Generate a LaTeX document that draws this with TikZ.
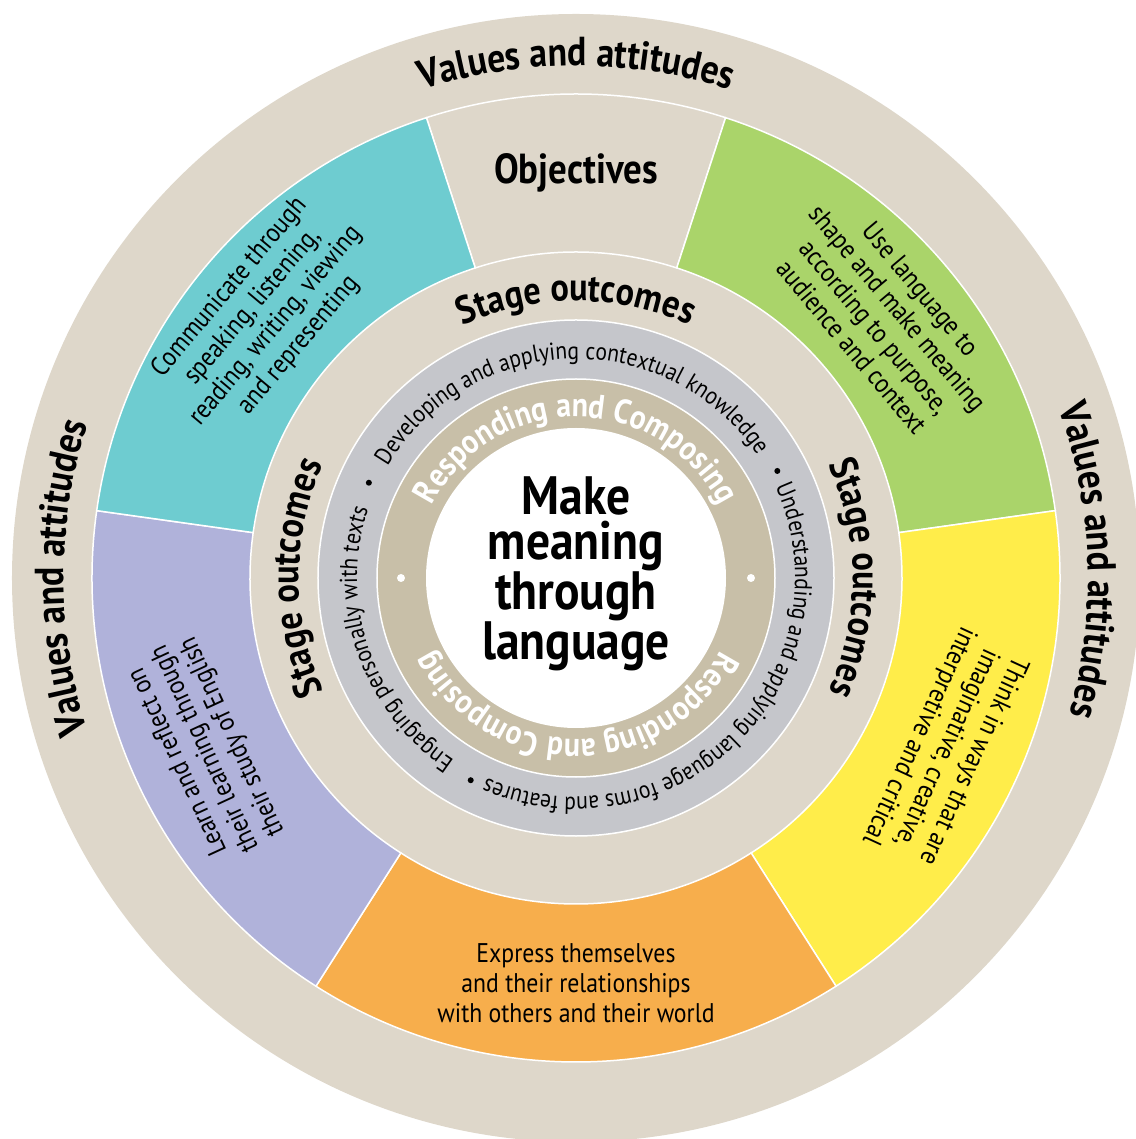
\documentclass[tikz,border=0pt]{standalone}
\usepackage{fontspec}
\setmainfont{PT Sans}[FakeStretch=0.88]
\usetikzlibrary{decorations.text}

\definecolor{ringbeige}{HTML}{DED7CA}
\definecolor{ringgray}{HTML}{C5C6CB}
\definecolor{ringtan}{HTML}{C8BFA8}
\definecolor{segcyan}{HTML}{6ECCD0}
\definecolor{seggreen}{HTML}{AAD46A}
\definecolor{segyellow}{HTML}{FFED4A}
\definecolor{segorange}{HTML}{F7AE4C}
\definecolor{segpurple}{HTML}{B0B2DA}

\newcommand{\bigfont}{\bfseries\fontsize{39}{39}\selectfont}
\newcommand{\valuefont}{\bfseries\fontsize{40.5}{40.5}\selectfont}
\newcommand{\objfont}{\bfseries\fontsize{42}{42}\selectfont}
\newcommand{\segfont}{\fontsize{27}{30}\selectfont}
\newcommand{\ringfont}{\fontsize{24.5}{24.5}\selectfont}
\newcommand{\respfont}{\bfseries\fontsize{34}{34}\selectfont}
\newcommand{\centrefont}{\bfseries\fontsize{54}{44.5}\selectfont}

\tikzset{
  curved/.style={decorate, decoration={text along path, text align=center, text={#1}}},
  curvedwhite/.style={decorate, decoration={text along path, text align=center, text color=white, text={#1}}},
  segline/.style={draw=white, line width=1.5pt},
  seglabel/.style={align=center, font=\segfont}
}

\begin{document}
\begin{tikzpicture}[x=1pt,y=1pt]
    \useasboundingbox (-576,-561) rectangle (559,578);
    \fill[ringbeige] (0,0) circle[radius=564];
    \foreach \from/\to/\col in {72/108/ringbeige, 8/72/seggreen, -57.5/8/segyellow,
        -122.5/-57.5/segorange, 172/237.5/segpurple, 108/172/segcyan}
      \draw[segline, fill=\col] (\from:326) arc[start angle=\from, end angle=\to, radius=326]
        -- (\to:484) arc[start angle=\to, end angle=\from, radius=484] -- cycle;
    \draw[segline, fill=ringgray] (0,0) circle[radius=258];
    \draw[segline, fill=ringtan] (0,0) circle[radius=199];
    \fill[white] (0,0) circle[radius=150];

    \path[curved={|\valuefont|Values and attitudes}] (150:512) arc[start angle=150, end angle=30, radius=512];
    \path[curved={|\valuefont|Values and attitudes}] (240:512) arc[start angle=240, end angle=120, radius=512];
    \path[curved={|\valuefont|Values and attitudes}] (62:512) arc[start angle=62, end angle=-58, radius=512];
    \path[curved={|\bigfont|Stage outcomes}] (150:277) arc[start angle=150, end angle=30, radius=277];
    \path[curved={|\bigfont|Stage outcomes}] (240:277) arc[start angle=240, end angle=120, radius=277];
    \path[curved={|\bigfont|Stage outcomes}] (60:277) arc[start angle=60, end angle=-60, radius=277];

    \path[curved={|\ringfont|Developing and applying contextual knowledge}] (161.7:219) arc[start angle=161.7, end angle=21.7, radius=219];
    \path[curved={|\ringfont|Understanding and applying language forms and features}] (42:219) arc[start angle=42, end angle=-131.5, radius=219];
    \path[curved={|\ringfont|Engaging personally with texts}] (251.9:219) arc[start angle=251.9, end angle=145.9, radius=219];
    \foreach \a in {155.3,28,242.5}
      \fill (\a:228) circle[radius=3];

    \path[curvedwhite={|\respfont|Responding and Composing}] (170:161) arc[start angle=170, end angle=10, radius=161];
    \path[curvedwhite={|\respfont|Responding and Composing}] (-10:161) arc[start angle=-10, end angle=-170, radius=161];
    \foreach \a in {0,180}
      \fill[white] (\a:175) circle[radius=4];

    \node[font=\objfont] (objectives) at (90:405) {Objectives};
    \node[seglabel, rotate=50] (communicate) at (140:407) {Communicate through\\speaking, listening,\\reading, writing, viewing\\and representing};
    \node[seglabel, rotate=-50] (uselang) at (40:405) {Use language to\\shape and make meaning\\according to purpose,\\audience and context};
    \node[seglabel, rotate=-114.75] (thinkways) at (-24.75:407) {Think in ways that are\\imaginative, creative,\\interpretive and critical};
    \node[seglabel] (express) at (-90:405) {Express themselves\\and their relationships\\with others and their world};
    \node[seglabel, rotate=114.75] (learnreflect) at (204.75:408) {Learn and reflect on\\their learning through\\their study of English};

    \node[font=\centrefont, align=center] (centre) at (0,4) {Make\\meaning\\through\\language};
\end{tikzpicture}
\end{document}
